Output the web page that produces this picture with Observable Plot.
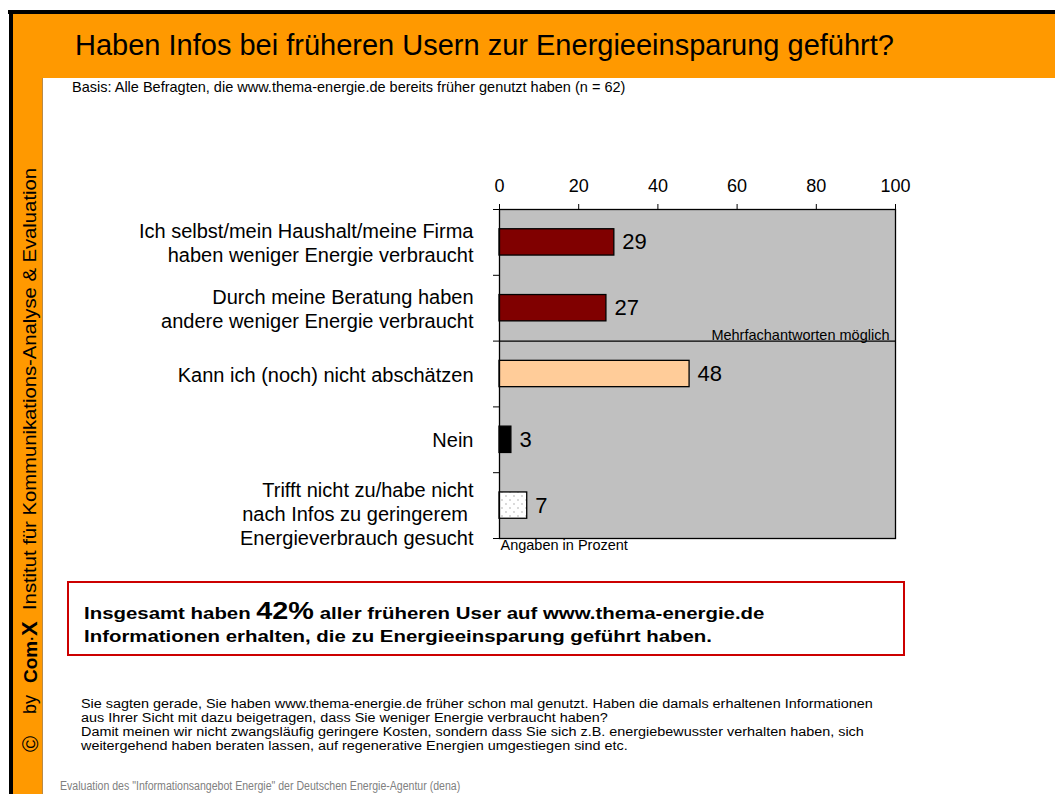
<!DOCTYPE html>
<html>
<head>
<meta charset="utf-8">
<script src="https://cdn.jsdelivr.net/npm/d3@7"></script>
<script src="https://cdn.jsdelivr.net/npm/@observablehq/plot@0.6"></script>
<style>
  html, body { margin: 0; padding: 0; background: #fff; }
  body { font-family: "Liberation Sans", Arial, sans-serif; }
  #page { position: relative; width: 1055px; height: 794px; overflow: hidden; background: #fff; }
  .abs { position: absolute; }
  #title { left: 75px; top: 29px; font-size: 29px; color: #000; white-space: nowrap; }
  #subtitle { left: 72px; top: 79px; font-size: 14.5px; white-space: nowrap; }
  #box { left: 67px; top: 581px; width: 834px; height: 71px; border: 2px solid #cc0000; }
  .boxline { left: 84px; font-size: 17px; font-weight: bold; line-height: 26px; white-space: nowrap; transform: scaleX(1.2); transform-origin: 0 0; }
  .boxline .big { font-size: 24px; }
  #question { left: 81px; top: 697px; font-size: 12px; line-height: 14px; white-space: nowrap; transform: scaleX(1.2); transform-origin: 0 0; }
  #footer { left: 60px; top: 779px; font-size: 12px; color: #808080; white-space: nowrap; transform: scaleX(0.88); transform-origin: 0 0; }
</style>
</head>
<body>
<div id="page">
  <div class="abs" style="left:13px;top:14px;width:1042px;height:64px;background:#ff9900"></div>
  <div class="abs" style="left:13px;top:14px;width:30px;height:780px;background:#ff9900"></div>
  <div class="abs" style="left:42px;top:78px;width:1px;height:716px;background:#b88a4a"></div>
  <div class="abs" style="left:8px;top:10px;width:1047px;height:4px;background:#000"></div>
  <div class="abs" style="left:9px;top:10px;width:4px;height:784px;background:#000"></div>
  <div class="abs" id="title"></div>
  <div class="abs" id="subtitle"></div>
  <svg class="abs" id="side" style="left:0;top:0" width="45" height="794"></svg>
  <div class="abs" id="chart" style="left:0;top:150px"></div>
  <div class="abs" id="box"></div>
  <div class="abs boxline" id="boxline1" style="top:598px"></div>
  <div class="abs boxline" id="boxline2" style="top:624px"></div>
  <div class="abs" id="question"></div>
  <div class="abs" id="footer"></div>
</div>
<script>
// ---- data ----
const titleText = "Haben Infos bei früheren Usern zur Energieeinsparung geführt?";
const subtitleText = "Basis: Alle Befragten, die www.thema-energie.de bereits früher genutzt haben (n = 62)";
const categories = [
  "Ich selbst/mein Haushalt/meine Firma\nhaben weniger Energie verbraucht",
  "Durch meine Beratung haben\nandere weniger Energie verbraucht",
  "Kann ich (noch) nicht abschätzen",
  "Nein",
  "Trifft nicht zu/habe nicht\nnach Infos zu geringerem \nEnergieverbrauch gesucht"
];
const values = [29, 27, 48, 3, 7];
const groups = ["ja", "ja", "unklar", "nein", "trifft nicht zu"];
const xTicks = [0, 20, 40, 60, 80, 100];
const noteMulti = "Mehrfachantworten möglich";
const noteUnit = "Angaben in Prozent";
const summaryLine1 = ["Insgesamt haben ", "42%", " aller früheren User auf www.thema-energie.de"];
const summaryLine2 = "Informationen erhalten, die zu Energieeinsparung geführt haben.";
const questionLines = [
  "Sie sagten gerade, Sie haben www.thema-energie.de früher schon mal genutzt. Haben die damals erhaltenen Informationen",
  "aus Ihrer Sicht mit dazu beigetragen, dass Sie weniger Energie verbraucht haben?",
  "Damit meinen wir nicht zwangsläufig geringere Kosten, sondern dass Sie sich z.B. energiebewusster verhalten haben, sich",
  "weitergehend haben beraten lassen, auf regenerative Energien umgestiegen sind etc."
];
const footerText = "Evaluation des \"Informationsangebot Energie\" der Deutschen Energie-Agentur (dena)";
const sideText = "Institut für Kommunikations-Analyse & Evaluation";

// ---- texts ----
document.getElementById("title").textContent = titleText;
document.getElementById("subtitle").textContent = subtitleText;
const l1 = document.getElementById("boxline1");
l1.append(summaryLine1[0]);
const big = document.createElement("span"); big.className = "big"; big.textContent = summaryLine1[1];
l1.append(big, summaryLine1[2]);
document.getElementById("boxline2").textContent = summaryLine2;
const q = document.getElementById("question");
questionLines.forEach(s => { const d = document.createElement("div"); d.textContent = s; q.append(d); });
document.getElementById("footer").textContent = footerText;

// ---- side strip ----
const side = d3.select("#side");
const sideG = side.append("g").attr("font-family", "Liberation Sans, Arial, sans-serif").attr("fill", "#000");
sideG.append("text").attr("transform", "translate(36,610) rotate(-90)").attr("font-size", 17.5)
  .attr("textLength", 442).attr("lengthAdjust", "spacingAndGlyphs").text(sideText);
const logo = sideG.append("text").attr("transform", "translate(37,683) rotate(-90)").attr("font-size", 19).attr("font-weight", "bold");
logo.append("tspan").text("Com");
logo.append("tspan").attr("font-size", 14).text("·");
logo.append("tspan").attr("font-size", 22).text("X");
sideG.append("text").attr("transform", "translate(36,714) rotate(-90)").attr("font-size", 18).text("by");
sideG.append("text").attr("transform", "translate(38,752) rotate(-90)").attr("font-size", 22).text("©");

// ---- chart ----
const rows = categories.map((label, i) => ({i, label, value: values[i], group: groups[i]}));

const plot = Plot.plot({
  width: 920,
  height: 420,
  marginLeft: 499,
  marginRight: 25,
  marginTop: 59,
  marginBottom: 32,
  style: {fontFamily: "Liberation Sans, Arial, sans-serif", fontSize: "18px", color: "#000", background: "transparent", overflow: "visible"},
  x: {domain: [0, 100], axis: null},
  y: {domain: [0, 5], reverse: true, axis: null},
  color: {type: "ordinal", domain: ["ja", "unklar", "nein", "trifft nicht zu"], range: ["#800000", "#ffcc99", "#000000", "url(#dots)"]},
  marks: [
    Plot.frame({fill: "#c0c0c0"}),
    Plot.axisX({anchor: "top", ticks: xTicks, tickSize: 6, tickPadding: 12, fontSize: 18, label: null, stroke: "#000"}),
    Plot.axisY({anchor: "left", ticks: [0, 1, 2, 3, 4, 5], tickSize: 6, tickFormat: () => "", label: null, stroke: "#000"}),
    Plot.ruleY([2], {stroke: "#000", strokeWidth: 1.2}),
    Plot.rect(rows, {x1: () => 0, x2: "value", y1: d => d.i + 0.3, y2: d => d.i + 0.7, fill: "group", stroke: "#000", strokeWidth: 1.3}),
    Plot.text(rows, {x: "value", y: d => d.i + 0.5, text: d => String(d.value), dx: 8, textAnchor: "start", fontSize: 22}),
    Plot.text(rows.filter(d => d.i < 4), {x: () => 0, y: d => d.i + 0.5, text: "label", textAnchor: "end", dx: -26, fontSize: 20, lineHeight: 1.2}),
    Plot.text(rows.filter(d => d.i === 4), {x: () => 0, y: d => d.i + 0.5, text: "label", textAnchor: "end", dx: -26, dy: 8, fontSize: 20, lineHeight: 1.2}),
    Plot.text([noteMulti], {x: () => 100, y: () => 2, text: d => d, textAnchor: "end", lineAnchor: "bottom", dx: -6, dy: -1, fontSize: 14.5}),
    Plot.text([noteUnit], {x: () => 0, y: () => 5, text: d => d, textAnchor: "start", lineAnchor: "top", dx: 1, dy: 1, fontSize: 14.5}),
    Plot.frame({stroke: "#000", strokeWidth: 1.3})
  ]
});

// dotted pattern for the "Trifft nicht zu" bar
const ns = "http://www.w3.org/2000/svg";
const defs = document.createElementNS(ns, "defs");
defs.innerHTML = '<pattern id="dots" width="8" height="8" patternUnits="userSpaceOnUse">' +
  '<rect width="8" height="8" fill="#ffffff"></rect>' +
  '<circle cx="2" cy="2" r="0.7" fill="#999"></circle>' +
  '<circle cx="6" cy="6" r="0.7" fill="#999"></circle></pattern>';
plot.insertBefore(defs, plot.firstChild);
document.getElementById("chart").append(plot);
</script>
</body>
</html>
